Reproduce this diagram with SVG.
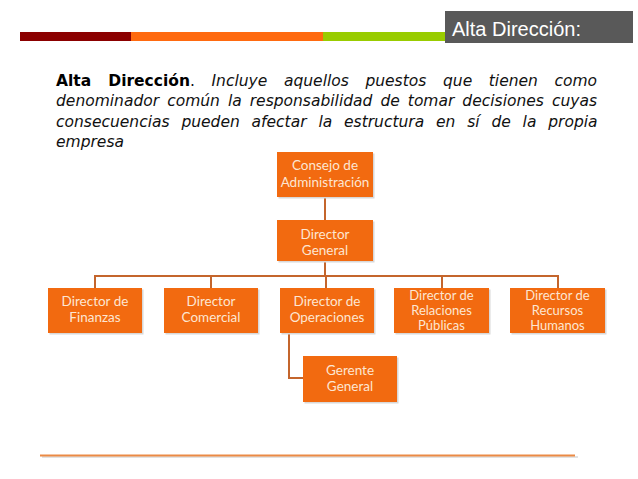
<svg xmlns="http://www.w3.org/2000/svg" width="638" height="479" viewBox="0 0 638 479">
<style>
.box{fill:#F26A10}
.sh{fill:#D8D8D8}
.nt{font-family:Lato,"Open Sans","Liberation Sans",sans-serif;font-size:13.5px;fill:#FDE6D2;text-anchor:middle}
.nt3{font-size:13px}
.con{fill:none;stroke:#C4652C;stroke-width:2}
.par{font-family:"DejaVu Sans","Liberation Sans",sans-serif;font-size:15.5px;fill:#111}
.p{font-style:oblique}
.pb{font-weight:bold;fill:#000}
</style>
<rect width="638" height="479" fill="#fff"/>
<g id="header">
<rect x="20" y="32" width="111" height="9" fill="#8B0000"/>
<rect x="131" y="32" width="192" height="9" fill="#FF6A0F"/>
<rect x="323" y="32" width="122" height="9" fill="#99CC00"/>
<rect x="445" y="11" width="188" height="32" fill="#595959"/>
<text x="452" y="36" font-family="'Liberation Sans',Arial,sans-serif" font-size="20" fill="#fff">Alta Dirección:</text>
</g>
<g id="paragraph">
<text class="par" x="56" y="86" word-spacing="11.7"><tspan class="pb">Alta Dirección</tspan>. <tspan class="p">Incluye aquellos puestos que tienen como</tspan></text>
<text class="par p" x="56" y="106" word-spacing="3.1">denominador común la responsabilidad de tomar decisiones cuyas</text>
<text class="par p" x="56" y="127" word-spacing="6.9">consecuencias pueden afectar la estructura en sí de la propia</text>
<text class="par p" x="56" y="147">empresa</text>
</g>
<g id="connectors">
<line class="con" x1="325" y1="197" x2="325" y2="220"/>
<line class="con" x1="325" y1="262" x2="325" y2="276"/>
<polyline class="con" points="95,288 95,276 558,276 558,288"/>
<line class="con" x1="211" y1="276" x2="211" y2="288"/>
<line class="con" x1="326" y1="276" x2="326" y2="288"/>
<line class="con" x1="442" y1="276" x2="442" y2="288"/>
<polyline class="con" points="289,333 289,378 303,378"/>
</g>
<g id="consejo">
<rect class="sh" x="278.5" y="153.5" width="96" height="45"/>
<rect class="box" x="277" y="152" width="96" height="45"/>
<text class="nt" x="325" y="170">Consejo de</text>
<text class="nt" x="325" y="187">Administración</text>
</g>
<g id="director-general">
<rect class="sh" x="278.5" y="221.5" width="96" height="41"/>
<rect class="box" x="277" y="220" width="96" height="41"/>
<text class="nt" x="325" y="239">Director</text>
<text class="nt" x="325" y="255">General</text>
</g>
<g id="finanzas">
<rect class="sh" x="49.5" y="289.5" width="94" height="45"/>
<rect class="box" x="48" y="288" width="94" height="45"/>
<text class="nt" x="95" y="306">Director de</text>
<text class="nt" x="95" y="322">Finanzas</text>
</g>
<g id="comercial">
<rect class="sh" x="165.5" y="289.5" width="94" height="45"/>
<rect class="box" x="164" y="288" width="94" height="45"/>
<text class="nt" x="211" y="306">Director</text>
<text class="nt" x="211" y="322">Comercial</text>
</g>
<g id="operaciones">
<rect class="sh" x="281.5" y="289.5" width="94" height="45"/>
<rect class="box" x="280" y="288" width="94" height="45"/>
<text class="nt" x="327" y="306">Director de</text>
<text class="nt" x="327" y="322">Operaciones</text>
</g>
<g id="relaciones">
<rect class="sh" x="395.5" y="289.5" width="95" height="45"/>
<rect class="box" x="394" y="288" width="95" height="45"/>
<text class="nt nt3" x="441.5" y="300">Director de</text>
<text class="nt nt3" x="441.5" y="315">Relaciones</text>
<text class="nt nt3" x="441.5" y="330">Públicas</text>
</g>
<g id="recursos">
<rect class="sh" x="511.5" y="289.5" width="95" height="45"/>
<rect class="box" x="510" y="288" width="95" height="45"/>
<text class="nt nt3" x="557.5" y="300">Director de</text>
<text class="nt nt3" x="557.5" y="315">Recursos</text>
<text class="nt nt3" x="557.5" y="330">Humanos</text>
</g>
<g id="gerente">
<rect class="sh" x="304.5" y="357.5" width="94" height="46"/>
<rect class="box" x="303" y="356" width="94" height="46"/>
<text class="nt" x="350" y="375">Gerente</text>
<text class="nt" x="350" y="391">General</text>
</g>
<g id="footer">
<line x1="42" y1="457" x2="578" y2="457" stroke="#D9D9D9" stroke-width="1.5"/>
<line x1="40" y1="455.5" x2="575" y2="455.5" stroke="#EB8A45" stroke-width="2"/>
</g>
</svg>
